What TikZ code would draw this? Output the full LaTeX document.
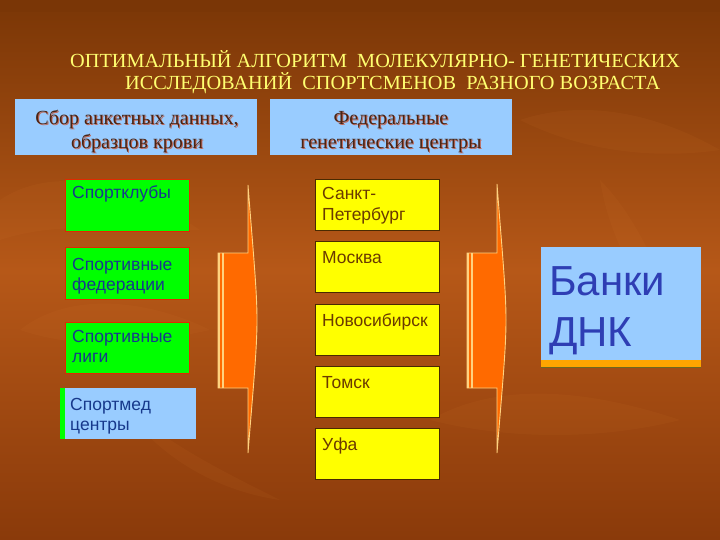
\documentclass[tikz,border=0pt]{standalone}
\usepackage{fontspec}
\setmainfont{Liberation Serif}
\setsansfont{Liberation Sans}
\definecolor{bgtop}{HTML}{7A3606}
\definecolor{bgmid}{HTML}{B65818}
\definecolor{bgbot}{HTML}{8A3A0A}
\definecolor{leaf}{HTML}{D27A30}
\definecolor{titleyel}{HTML}{FFFF70}
\definecolor{hdrblue}{HTML}{99CCFF}
\definecolor{hdrtext}{HTML}{4A2414}
\definecolor{hdrshadow}{HTML}{C06858}
\definecolor{grn}{HTML}{00FF00}
\definecolor{grnline}{HTML}{E02A00}
\definecolor{navy}{HTML}{17398C}
\definecolor{yel}{HTML}{FFFF00}
\definecolor{yelline}{HTML}{4A2A00}
\definecolor{yeltext}{HTML}{6A3A00}
\definecolor{arrfill}{HTML}{FF6A00}
\definecolor{arrline}{HTML}{FFD27F}
\definecolor{bankblue}{HTML}{2E3EB4}
\definecolor{bankstrip}{HTML}{FFA500}
\begin{document}
\begin{tikzpicture}[x=1pt,y=-1pt,
  boxbase/.style={anchor=north west, inner sep=0pt, outer sep=0pt},
  hdrbox/.style={boxbase, fill=hdrblue, minimum width=242pt, minimum height=56pt},
  greenbox/.style={boxbase, fill=grn, draw=grnline, line width=0.8pt, minimum width=124pt},
  medbox/.style={boxbase, fill=hdrblue, minimum width=136pt, minimum height=51pt},
  yelbox/.style={boxbase, fill=yel, draw=yelline, line width=0.8pt, minimum width=124pt, minimum height=51pt},
  bankbox/.style={boxbase, fill=hdrblue, minimum width=160pt, minimum height=120pt},
  titletxt/.style={anchor=base west, inner sep=0pt, text=titleyel, font=\fontsize{20}{22}\selectfont},
  hdrtxt/.style={anchor=base, inner sep=0pt, text=hdrtext, font=\fontsize{20}{22}\selectfont},
  hdrshd/.style={anchor=base, inner sep=0pt, text=hdrshadow, font=\fontsize{20}{22}\selectfont},
  gtxt/.style={anchor=base west, inner sep=0pt, text=navy, font=\sffamily\fontsize{17.5}{20}\selectfont},
  ytxt/.style={anchor=base west, inner sep=0pt, text=yeltext, font=\sffamily\fontsize{17.5}{20}\selectfont},
  btxt/.style={anchor=base west, inner sep=0pt, text=bankblue, font=\sffamily\fontsize{42}{50}\selectfont},
  arrowshape/.style={fill=arrfill, draw=arrline, line width=0.9pt, line join=miter},
  stripe/.style={draw=arrline, line width=1.6pt}
]
\useasboundingbox (0,0) rectangle (720,540);
% background
\shade[top color=bgtop, bottom color=bgbot, middle color=bgmid] (0,0) rectangle (720,540);
\fill[bgtop, opacity=0.5] (0,0) rectangle (720,12);
\begin{scope}[opacity=0.09]
  \fill[leaf] (0,200) .. controls (60,160) and (140,190) .. (200,230) .. controls (130,230) and (60,220) .. (0,240) -- cycle;
  \fill[leaf] (20,330) .. controls (70,290) and (150,300) .. (210,330) .. controls (140,345) and (80,350) .. (20,330) -- cycle;
  \fill[leaf] (520,120) .. controls (580,100) and (650,110) .. (720,150) .. controls (650,160) and (580,150) .. (520,120) -- cycle;
  \fill[leaf] (430,420) .. controls (500,380) and (590,390) .. (680,420) .. controls (600,440) and (510,440) .. (430,420) -- cycle;
  \fill[leaf] (600,180) .. controls (640,220) and (660,280) .. (690,330) .. controls (640,300) and (610,240) .. (600,180) -- cycle;
  \fill[leaf] (120,400) .. controls (160,440) and (220,470) .. (280,500) .. controls (210,490) and (150,450) .. (120,400) -- cycle;
\end{scope}

% title
\node[titletxt] (title1) at (70,68) {\resizebox{610pt}{\height}{ОПТИМАЛЬНЫЙ АЛГОРИТМ\ \ МОЛЕКУЛЯРНО- ГЕНЕТИЧЕСКИХ}};
\node[titletxt] (title2) at (125,90) {\resizebox{535pt}{\height}{ИССЛЕДОВАНИЙ\ \ СПОРТСМЕНОВ\ \ РАЗНОГО ВОЗРАСТА}};

% header boxes
\node[hdrbox] (hdr1) at (15,99) {};
\node[hdrbox] (hdr2) at (270,99) {};
\node[hdrshd] at (138,126) {Сбор анкетных данных,};
\node[hdrtxt] (hdr1a) at (137,125) {Сбор анкетных данных,};
\node[hdrshd] at (138,150) {образцов крови};
\node[hdrtxt] (hdr1b) at (137,149) {образцов крови};
\node[hdrshd] at (392,126) {Федеральные};
\node[hdrtxt] (hdr2a) at (391,125) {Федеральные};
\node[hdrshd] at (392,150) {генетические центры};
\node[hdrtxt] (hdr2b) at (391,149) {генетические центры};

% left column
\node[greenbox, minimum height=52pt] (clubs) at (65,179) {};
\node[gtxt] (clubsT) at (72,199) {Спортклубы};
\node[greenbox, minimum height=52pt] (feds) at (65,247) {};
\node[gtxt] (fedsT1) at (72,270) {Спортивные};
\node[gtxt] (fedsT2) at (72,290) {федерации};
\node[greenbox, minimum height=51pt] (leagues) at (65,322) {};
\node[gtxt] (leaguesT1) at (72,342) {Спортивные};
\node[gtxt] (leaguesT2) at (72,362) {лиги};
\node[medbox] (med) at (60,388) {};
\fill[grn] (med.north west) rectangle ([xshift=5pt]med.south west);
\node[gtxt] (medT1) at (70,410) {Спортмед};
\node[gtxt] (medT2) at (70,430) {центры};

% middle column
\node[yelbox] (spb) at (315,179) {};
\node[ytxt] (spbT1) at (322,200) {Санкт-};
\node[ytxt] (spbT2) at (322,221) {Петербург};
\node[yelbox] (msk) at (315,241) {};
\node[ytxt] (mskT) at (322,263) {Москва};
\node[yelbox] (nsk) at (315,304) {};
\node[ytxt] (nskT) at (322,326) {Новосибирск};
\node[yelbox] (tomsk) at (315,366) {};
\node[ytxt] (tomskT) at (322,388) {Томск};
\node[yelbox] (ufa) at (315,428) {};
\node[ytxt] (ufaT) at (322,450) {Уфа};

% right box
\node[bankbox] (bank) at (541,247) {};
\fill[bankstrip] ([yshift=7pt]bank.south west) rectangle (bank.south east);
\draw[olive!70!black, line width=0.6pt] (bank.south west) -- (bank.south east);
\node[btxt] (bankT1) at (549,295) {Банки};
\node[btxt] (bankT2) at (549,346) {ДНК};

% block arrows
\draw[arrowshape] (218,253) -- (248,253) -- (248,185)
  .. controls (253,250) and (257,290) .. (257,320)
  .. controls (257,350) and (253,390) .. (248,453)
  -- (248,388) -- (218,388) -- cycle;
\draw[stripe] (219,253) -- (219,388);
\draw[stripe] (223,253) -- (223,388);

\draw[arrowshape] (467,253) -- (497,253) -- (497,184)
  .. controls (502,250) and (506,290) .. (506,320)
  .. controls (506,350) and (502,390) .. (497,453)
  -- (497,388) -- (467,388) -- cycle;
\draw[stripe] (468,253) -- (468,388);
\draw[stripe] (472,253) -- (472,388);
\end{tikzpicture}
\end{document}
